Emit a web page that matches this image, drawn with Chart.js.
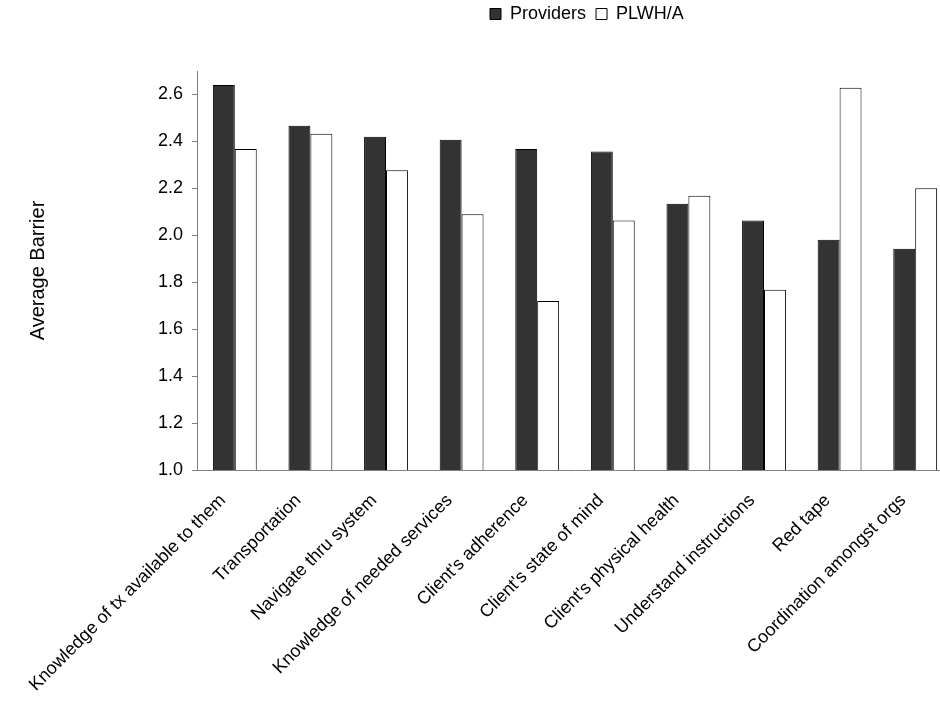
<!DOCTYPE html>
<html>
<head>
<meta charset="utf-8">
<title>Average Barrier: Providers vs PLWH/A</title>
<script src="https://cdn.jsdelivr.net/npm/chart.js@4.4.0/dist/chart.umd.min.js"></script>
<style>
    html, body { margin: 0; padding: 0; background: #fff; overflow: hidden; }
    #wrap { width: 940px; height: 707px; overflow: hidden; }
    canvas { display: block; }
</style>
</head>
<body>
<div id="wrap"><canvas id="barrierChart" width="953" height="707"></canvas></div>
<script>
// Barrier categories
const categories = [
    'Knowledge of tx available to them',
    'Transportation',
    'Navigate thru system',
    'Knowledge of needed services',
    "Client's adherence",
    "Client's state of mind",
    "Client's physical health",
    'Understand instructions',
    'Red tape',
    'Coordination amongst orgs'
];

// Average barrier scores
const providers = [2.64, 2.467, 2.42, 2.407, 2.368, 2.357, 2.134, 2.063, 1.981, 1.943];
const plwha     = [2.368, 2.433, 2.277, 2.09, 1.72, 2.063, 2.169, 1.768, 2.629, 2.2];

// Y axis
const yMin = 1.0;
const yMax = 2.7;
const yStep = 0.2;
const yLastLabel = 2.6;

const FONT = 'Liberation Sans, Arial, Helvetica, sans-serif';
const AXIS_GREY = '#808080';

// moves the legend up/right, above the plot like in the original
const legendShift = {
    id: 'legendShift',
    afterLayout(chart) {
        const lg = chart.legend;
        if (!lg) return;
        const dx = 480 - lg.left;
        const dy = -5 - lg.top;
        lg.left += dx; lg.right += dx;
        lg.top += dy; lg.bottom += dy;
    }
};

const chart = new Chart(document.getElementById('barrierChart').getContext('2d'), {
    type: 'bar',
    data: {
        labels: categories,
        datasets: [
            {
                label: 'Providers',
                data: providers,
                backgroundColor: '#333333',
                borderColor: '#000000',
                borderWidth: 1,
                borderSkipped: false
            },
            {
                label: 'PLWH/A',
                data: plwha,
                backgroundColor: '#ffffff',
                borderColor: '#000000',
                borderWidth: 1,
                borderSkipped: false
            }
        ]
    },
    options: {
        responsive: false,
        animation: false,
        devicePixelRatio: 1,
        categoryPercentage: 0.58,
        barPercentage: 1.0,
        layout: { padding: { top: 33, right: 0, bottom: 0, left: 0 } },
        plugins: {
            legend: {
                position: 'top',
                align: 'start',
                labels: {
                    color: '#000',
                    font: { family: FONT, size: 18 },
                    boxWidth: 11,
                    boxHeight: 11,
                    padding: 10
                }
            },
            tooltip: { enabled: false },
            title: { display: false }
        },
        scales: {
            x: {
                grid: { display: false, drawTicks: false },
                border: { display: true, color: AXIS_GREY, width: 1 },
                ticks: {
                    color: '#000',
                    font: { family: FONT, size: 18 },
                    minRotation: 45,
                    maxRotation: 45,
                    autoSkip: false,
                    padding: 20,
                    labelOffset: -12
                },
                afterFit(scale) { scale.height = 237; }
            },
            y: {
                min: yMin,
                max: yMax,
                grid: {
                    drawOnChartArea: false,
                    drawTicks: true,
                    tickLength: 5,
                    color: AXIS_GREY
                },
                border: { display: true, color: AXIS_GREY, width: 1 },
                ticks: {
                    stepSize: yStep,
                    color: '#000',
                    font: { family: FONT, size: 18 },
                    padding: 9,
                    callback: (v) => Number(v).toFixed(1)
                },
                afterBuildTicks(scale) {
                    scale.ticks = scale.ticks.filter(t => t.value <= yLastLabel + 1e-6);
                },
                title: {
                    display: true,
                    text: 'Average Barrier',
                    color: '#000',
                    font: { family: FONT, size: 20 },
                    padding: { top: 26, bottom: 0 }
                },
                afterFit(scale) { scale.width = 197; }
            }
        }
    },
    plugins: [legendShift]
});
</script>
</body>
</html>
